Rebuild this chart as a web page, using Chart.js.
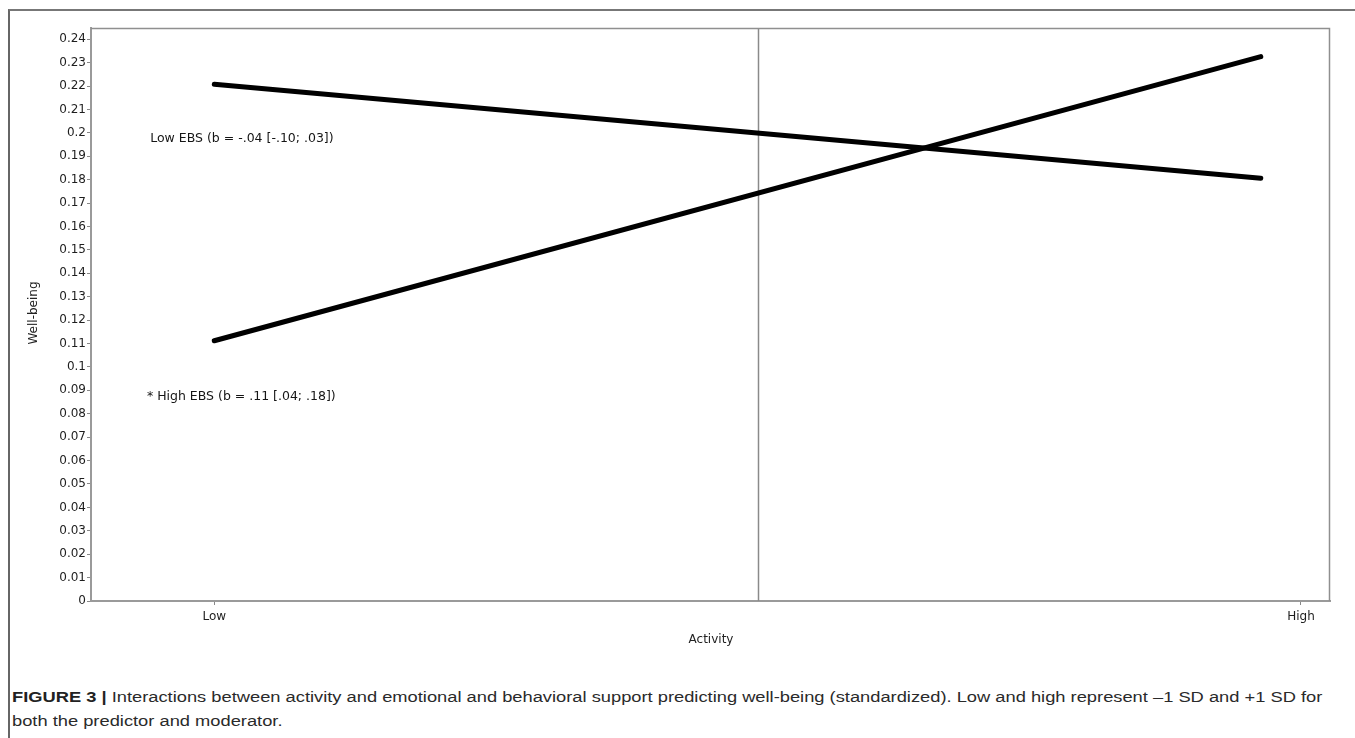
<!DOCTYPE html>
<html>
<head>
<meta charset="utf-8">
<script src="https://cdn.jsdelivr.net/npm/chart.js@4.4.1/dist/chart.umd.min.js"></script>
<style>
  html, body { margin: 0; padding: 0; background: #fff; }
  body { width: 1355px; height: 738px; position: relative; overflow: hidden; }
  #frame {
    position: absolute; left: 8px; top: 9px; width: 1360px; height: 740px;
    border-left: 2px solid #666; border-top: 2px solid #777;
  }
  #wrap { position: absolute; left: 0; top: 0; width: 1355px; height: 660px; }
  #caption {
    position: absolute; left: 12px; top: 685px;
    font-family: 'Liberation Sans Narrow', 'Liberation Sans', Arial, sans-serif;
    font-size: 15.5px; color: #2a2a2a; line-height: 24px; white-space: nowrap;
    transform-origin: 0 0;
  }
  #caption b { color: #222; }
</style>
</head>
<body>
<div id="frame"></div>
<div id="wrap"><canvas id="chart" width="1355" height="660"></canvas></div>
<div id="caption">
  <div id="cap1"><b>FIGURE 3 |</b> Interactions between activity and emotional and behavioral support predicting well-being (standardized). Low and high represent –1 SD and +1 SD for</div>
  <div>both the predictor and moderator.</div>
</div>
<script>
// Activity levels (−1 SD = Low, +1 SD = High) and the simple slopes
const activityPoints = [-1, 0.926];
const lowEbsValues  = [0.2208, 0.1806];
const highEbsValues = [0.1112, 0.2326];
const seriesNames = ['Low EBS (b = -.04 [-.10; .03])', '* High EBS (b = .11 [.04; .18])'];
const xTickValues = [-1, 1];
const xTickLabels = ['Low', 'High'];
const yTickValues = [0, 0.01, 0.02, 0.03, 0.04, 0.05, 0.06, 0.07, 0.08, 0.09, 0.1, 0.11, 0.12,
                     0.13, 0.14, 0.15, 0.16, 0.17, 0.18, 0.19, 0.2, 0.21, 0.22, 0.23, 0.24];
const meanActivity = 0;

// where the series captions sit, in data units
const seriesLabelAnchors = [{ x: -1.118, y: 0.1977 }, { x: -1.124, y: 0.0872 }];

const FONT = "'DejaVu Sans', Verdana, sans-serif";

const plotDecor = {
  id: 'plotDecor',
  beforeDatasetsDraw(chart) {
    const { ctx, chartArea: a, scales: { x } } = chart;
    const px = Math.round(x.getPixelForValue(meanActivity)) + 0.5;
    ctx.save();
    ctx.strokeStyle = '#8a8a8a';
    ctx.lineWidth = 1.5;
    ctx.beginPath();
    ctx.moveTo(px, a.top);
    ctx.lineTo(px, a.bottom);
    ctx.stroke();
    // top and right edges of the plot box
    ctx.strokeStyle = '#8f8f8f';
    ctx.lineWidth = 1.5;
    ctx.beginPath();
    ctx.moveTo(a.left, a.top + 0.5);
    ctx.lineTo(a.right - 0.5, a.top + 0.5);
    ctx.lineTo(a.right - 0.5, a.bottom);
    ctx.stroke();
    ctx.restore();
  },
  afterDraw(chart) {
    const { ctx, scales: { x, y } } = chart;
    ctx.save();
    ctx.fillStyle = '#151515';
    ctx.font = '12.5px ' + FONT;
    ctx.textBaseline = 'middle';
    ctx.textAlign = 'left';
    seriesNames.forEach((name, i) => {
      const p = seriesLabelAnchors[i];
      ctx.fillText(name, x.getPixelForValue(p.x), y.getPixelForValue(p.y));
    });
    // axis titles
    ctx.textAlign = 'center';
    ctx.fillStyle = '#222';
    ctx.font = '12px ' + FONT;
    ctx.fillText('Activity', 711, 640);
    ctx.translate(34, 313);
    ctx.rotate(-Math.PI / 2);
    ctx.fillText('Well-being', 0, 0);
    ctx.restore();
  }
};

const toPoints = vals => activityPoints.map((a, i) => ({ x: a, y: vals[i] }));

new Chart(document.getElementById('chart'), {
  type: 'scatter',
  data: {
    datasets: [
      { label: seriesNames[0], data: toPoints(lowEbsValues), showLine: true,
        borderColor: '#000', borderWidth: 5, borderCapStyle: 'round', pointRadius: 0 },
      { label: seriesNames[1], data: toPoints(highEbsValues), showLine: true,
        borderColor: '#000', borderWidth: 5, borderCapStyle: 'round', pointRadius: 0 }
    ]
  },
  options: {
    responsive: false,
    animation: false,
    devicePixelRatio: 1,
    layout: { padding: { left: 0, top: 28, right: 25, bottom: 0 } },
    plugins: { legend: { display: false }, tooltip: { enabled: false } },
    scales: {
      x: {
        type: 'linear',
        min: -1.2269,
        max: 1.0534,
        afterBuildTicks(scale) { scale.ticks = xTickValues.map(v => ({ value: v })); },
        afterFit(scale) { scale.height = 59; },
        grid: { display: true, drawOnChartArea: false, drawTicks: true, tickLength: 4, color: '#888', lineWidth: 1 },
        border: { display: true, color: '#9a9a9a', width: 2 },
        ticks: {
          autoSkip: false, maxRotation: 0, padding: 5, color: '#1e1e1e',
          font: { family: FONT, size: 12 },
          callback: v => xTickLabels[xTickValues.indexOf(v)]
        }
      },
      y: {
        min: 0,
        max: 0.24483,
        afterBuildTicks(scale) { scale.ticks = yTickValues.map(v => ({ value: v })); },
        afterFit(scale) { scale.width = 91; },
        grid: { display: true, drawOnChartArea: false, drawTicks: true, tickLength: 4, color: '#888', lineWidth: 1 },
        border: { display: true, color: '#9a9a9a', width: 2 },
        ticks: {
          autoSkip: false, padding: 1, color: '#1e1e1e',
          font: { family: FONT, size: 12 },
          callback: v => String(Number(v.toFixed(2)))
        }
      }
    }
  },
  plugins: [plotDecor]
});

// fit the caption's first line to the text column
const cap = document.getElementById('caption');
const w = document.getElementById('cap1').scrollWidth;
const s = 1310 / w;
cap.style.transform = 'scaleX(' + s.toFixed(4) + ')';
</script>
</body>
</html>
